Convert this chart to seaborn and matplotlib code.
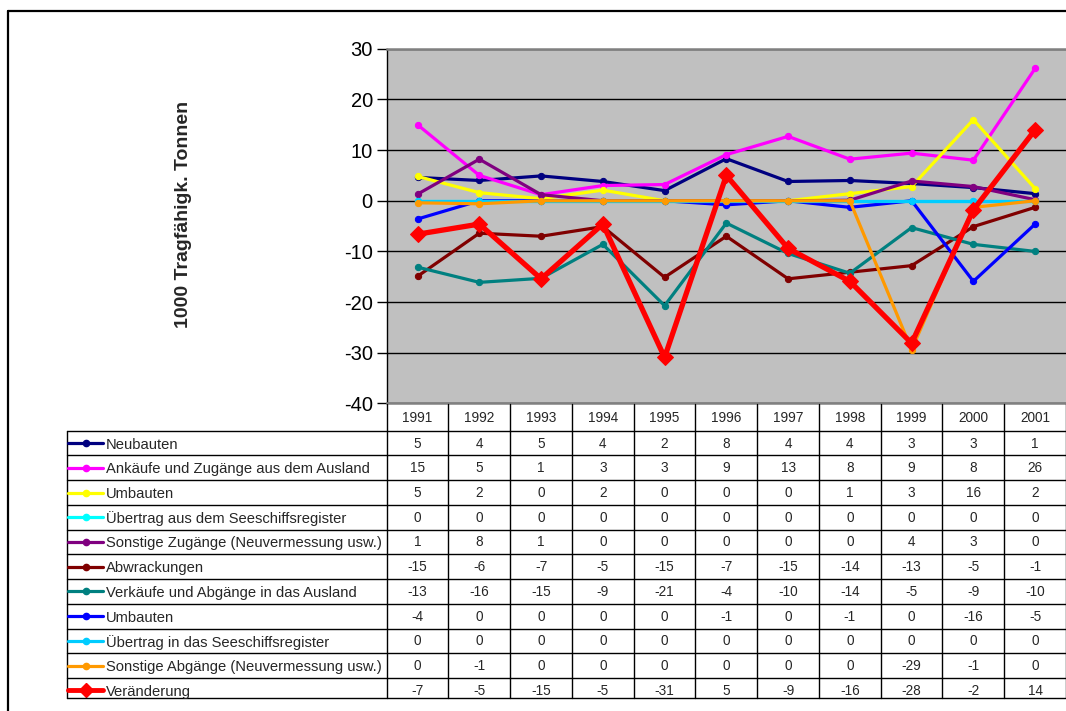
import numpy as np
import pandas as pd
import matplotlib
matplotlib.use("Agg")
import matplotlib.pyplot as plt
import seaborn as sns

years = [1991, 1992, 1993, 1994, 1995, 1996, 1997, 1998, 1999, 2000, 2001]

neubauten = [4.6, 4.0, 4.9, 3.8, 2.0, 8.3, 3.8, 4.0, 3.4, 2.6, 1.4]
ankaeufe = [15.0, 5.0, 1.2, 3.0, 3.2, 9.1, 12.7, 8.2, 9.4, 8.0, 26.1]
umbauten_zu = [4.8, 1.6, 0.4, 2.1, 0.0, 0.0, 0.0, 1.4, 2.8, 16.0, 2.4]
uebertrag_aus = [0.0, 0.0, 0.0, 0.0, 0.0, 0.0, 0.0, 0.0, 0.0, 0.0, 0.0]
sonstige_zu = [1.3, 8.2, 1.2, 0.0, 0.0, 0.0, 0.0, 0.1, 3.9, 2.8, 0.2]
abwrackungen = [-14.9, -6.4, -7.0, -5.1, -15.1, -7.0, -15.4, -14.1, -12.8, -5.1, -1.3]
verkaeufe = [-13.1, -16.1, -15.3, -8.6, -20.7, -4.4, -10.4, -14.3, -5.3, -8.6, -10.0]
umbauten_ab = [-3.6, 0.0, 0.0, 0.0, 0.0, -0.8, 0.0, -1.3, 0.0, -15.9, -4.6]
uebertrag_in = [0.0, 0.0, 0.0, 0.0, 0.0, 0.0, 0.0, 0.0, 0.0, 0.0, 0.0]
sonstige_ab = [-0.4, -0.6, 0.0, 0.0, 0.0, 0.0, 0.0, 0.0, -29.4, -1.3, 0.0]
veraenderung = [-6.6, -4.6, -15.4, -4.6, -30.9, 5.0, -9.4, -15.9, -28.1, -1.8, 14.0]

names = ["Neubauten", "Ankäufe und Zugänge aus dem Ausland", "Umbauten",
         "Übertrag aus dem Seeschiffsregister", "Sonstige Zugänge (Neuvermessung usw.)",
         "Abwrackungen", "Verkäufe und Abgänge in das Ausland", "Umbauten",
         "Übertrag in das Seeschiffsregister", "Sonstige Abgänge (Neuvermessung usw.)",
         "Veränderung"]
series = [neubauten, ankaeufe, umbauten_zu, uebertrag_aus, sonstige_zu, abwrackungen,
          verkaeufe, umbauten_ab, uebertrag_in, sonstige_ab, veraenderung]
colors = ["#000080", "#FF00FF", "#FFFF00", "#00FFFF", "#800080", "#800000",
          "#008080", "#0000FF", "#00CCFF", "#FF9900", "#FF0000"]

sns.set_theme(style="white")
plt.rcParams["font.family"] = ["Liberation Sans", "DejaVu Sans"]
plt.rcParams["axes.unicode_minus"] = False

W, H = 1066, 711
fig = plt.figure(figsize=(W / 100, H / 100), dpi=100)
fig.patch.set_facecolor("white")

left_px, top_px, bot_px = 386.7, 48.7, 403.5
ax = fig.add_axes([left_px / W, 1 - bot_px / H, (W - left_px) / W, (bot_px - top_px) / H])
ax.set_facecolor("#C0C0C0")

xi = list(range(len(years)))
for i, (name, vals, col) in enumerate(zip(names, series, colors)):
    df = pd.DataFrame({"x": xi, "y": vals})
    if i == len(series) - 1:
        sns.lineplot(data=df, x="x", y="y", ax=ax, color=col, lw=3.8, marker="D",
                     markersize=8, markeredgecolor=col, legend=False, zorder=5 + i)
    else:
        sns.lineplot(data=df, x="x", y="y", ax=ax, color=col, lw=2.3, marker="o",
                     markersize=4.5, markeredgecolor=col, legend=False, zorder=5 + i)

ax.set_xlim(-0.5, 10.5)
ax.set_ylim(-40, 30)
ax.set_yticks(range(-40, 31, 10))
ax.set_xticks([])
ax.set_xlabel("")
ax.set_ylabel("")
ax.yaxis.grid(True, color="black", lw=1)
ax.set_axisbelow(True)
ax.tick_params(axis="y", direction="out", length=7, width=1, labelsize=14.5, pad=3,
               left=True, colors="black")
ax.spines["right"].set_visible(False)
ax.spines["left"].set_color("black")
ax.spines["left"].set_linewidth(1)
ax.spines["top"].set_color("#808080")
ax.spines["top"].set_linewidth(1.8)
ax.spines["bottom"].set_color("#808080")
ax.spines["bottom"].set_linewidth(1.8)

fig.text(184 / W, 1 - 214 / H, "1000 Tragfähigk. Tonnen", rotation=90, fontsize=14,
         fontweight="bold", ha="center", va="center")

# table overlay in pixel coordinates
tax = fig.add_axes([0, 0, 1, 1])
tax.set_xlim(0, W)
tax.set_ylim(H, 0)
tax.axis("off")
tax.patch.set_alpha(0)

# outer frame
tax.plot([8, 8], [H, 11], color="black", lw=1.6)
tax.plot([8, W], [11, 11], color="black", lw=1.6)

col_w = (W - left_px) / len(years)
col_edges = [left_px + k * col_w for k in range(len(years) + 1)]
head_top, head_bot = 404.0, 430.7
row_h = 24.73
tab_left = 66.5
table_bottom = 698.0

for k, yr in enumerate(years):
    tax.text(left_px + (k + 0.5) * col_w, (head_top + head_bot) / 2 + 1, str(yr),
             ha="center", va="center", fontsize=9.8)
for xe in col_edges:
    tax.plot([xe, xe], [head_top, table_bottom], color="black", lw=1)
tax.plot([tab_left, tab_left], [head_bot, table_bottom], color="black", lw=1)

for r, (name, vals, col) in enumerate(zip(names, series, colors)):
    y0 = head_bot + r * row_h
    yc = y0 + row_h / 2
    tax.plot([tab_left, W], [y0, y0], color="black", lw=1)
    is_last = r == len(series) - 1
    tax.plot([68, 103], [yc, yc], color=col, lw=3.5 if is_last else 2.3)
    tax.plot([85.7], [yc], marker="D" if is_last else "o", color=col,
             markersize=7 if is_last else 4.5)
    tax.text(105.5, yc + 1.5, name, ha="left", va="center", fontsize=10.6)
    for k, v in enumerate(vals):
        s = str(int(round(v)))
        if s == "-0":
            s = "0"
        tax.text(left_px + (k + 0.5) * col_w, yc + 0.5, s, ha="center", va="center",
                 fontsize=9.8)
tax.plot([tab_left, W], [table_bottom, table_bottom], color="black", lw=1)

fig.savefig("out.png", dpi=100, facecolor="white")
